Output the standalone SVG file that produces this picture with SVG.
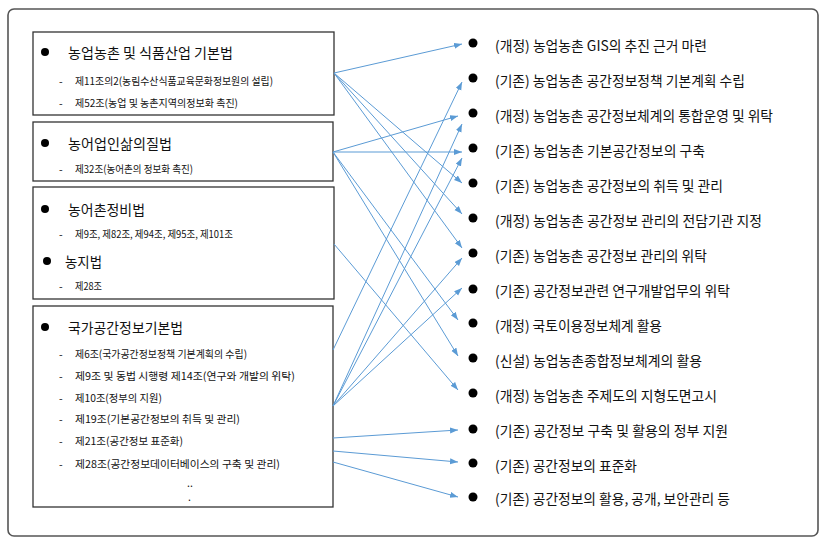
<svg xmlns="http://www.w3.org/2000/svg" width="826" height="548" viewBox="0 0 826 548">
<defs>
<marker id="ah" markerUnits="userSpaceOnUse" markerWidth="9" markerHeight="7" refX="8" refY="3" orient="auto">
<path d="M0,0 L8,3 L0,6 z" fill="#5b9bd5"/>
</marker>
<style>
text{font-family:"Noto Sans CJK KR","Noto Sans",sans-serif;fill:#111;dominant-baseline:central}
.t{font-size:14px}
.s{font-size:10.5px}
.r{font-size:14px}
.box{fill:#fff;stroke:#333;stroke-width:1.3}
.frame{fill:none;stroke:#555;stroke-width:1.6}
.b{fill:#000}
#connectors line{stroke:#5b9bd5;stroke-width:1;marker-end:url(#ah)}
</style>
</defs>
<rect width="826" height="548" fill="#fff"/>
<rect class="frame" x="8" y="9" width="810" height="527" rx="6"/>

<g id="law1">
<rect class="box" x="33" y="32" width="301" height="83"/>
<circle class="b" cx="45" cy="52" r="4"/>
<text class="t" x="68" y="52" textLength="165" lengthAdjust="spacingAndGlyphs">농업농촌 및 식품산업 기본법</text>
<text class="s" x="59" y="80">-</text>
<text class="s" x="75" y="80" textLength="198" lengthAdjust="spacingAndGlyphs">제11조의2(농림수산식품교육문화정보원의 설립)</text>
<text class="s" x="59" y="102">-</text>
<text class="s" x="75" y="102" textLength="163" lengthAdjust="spacingAndGlyphs">제52조(농업 및 농촌지역의정보화 촉진)</text>
</g>

<g id="law2">
<rect class="box" x="33" y="122" width="300" height="59"/>
<circle class="b" cx="45" cy="143" r="4"/>
<text class="t" x="68" y="143" textLength="104" lengthAdjust="spacingAndGlyphs">농어업인삶의질법</text>
<text class="s" x="59" y="168">-</text>
<text class="s" x="75" y="168" textLength="118" lengthAdjust="spacingAndGlyphs">제32조(농어촌의 정보화 촉진)</text>
</g>

<g id="law3">
<rect class="box" x="33" y="187" width="301" height="112"/>
<circle class="b" cx="45" cy="209" r="4"/>
<text class="t" x="68" y="209" textLength="77" lengthAdjust="spacingAndGlyphs">농어촌정비법</text>
<text class="s" x="59" y="233">-</text>
<text class="s" x="75" y="233" textLength="158" lengthAdjust="spacingAndGlyphs">제9조, 제82조, 제94조, 제95조, 제101조</text>
<circle class="b" cx="47" cy="261" r="4"/>
<text class="t" x="65" y="261" textLength="37" lengthAdjust="spacingAndGlyphs">농지법</text>
<text class="s" x="59" y="285">-</text>
<text class="s" x="75" y="285" textLength="27" lengthAdjust="spacingAndGlyphs">제28조</text>
</g>

<g id="law4">
<rect class="box" x="33" y="306" width="300" height="201"/>
<circle class="b" cx="45" cy="327" r="4"/>
<text class="t" x="68" y="327" textLength="115" lengthAdjust="spacingAndGlyphs">국가공간정보기본법</text>
<text class="s" x="59" y="353">-</text>
<text class="s" x="75" y="353" textLength="172" lengthAdjust="spacingAndGlyphs">제6조(국가공간정보정책 기본계획의 수립)</text>
<text class="s" x="59" y="375">-</text>
<text class="s" x="75" y="375" textLength="220" lengthAdjust="spacingAndGlyphs">제9조 및 동법 시행령 제14조(연구와 개발의 위탁)</text>
<text class="s" x="59" y="397">-</text>
<text class="s" x="75" y="397" textLength="87" lengthAdjust="spacingAndGlyphs">제10조(정부의 지원)</text>
<text class="s" x="59" y="418">-</text>
<text class="s" x="75" y="418" textLength="165" lengthAdjust="spacingAndGlyphs">제19조(기본공간정보의 취득 및 관리)</text>
<text class="s" x="59" y="440">-</text>
<text class="s" x="75" y="440" textLength="108" lengthAdjust="spacingAndGlyphs">제21조(공간정보 표준화)</text>
<text class="s" x="59" y="463">-</text>
<text class="s" x="75" y="463" textLength="205" lengthAdjust="spacingAndGlyphs">제28조(공간정보데이터베이스의 구축 및 관리)</text>
<text class="s" x="187" y="482">..</text>
<text class="s" x="188" y="496">.</text>
</g>

<g id="items">
<g id="i1"><circle class="b" cx="473" cy="43" r="4.5"/><text class="r" x="495" y="45" textLength="212" lengthAdjust="spacingAndGlyphs">(개정) 농업농촌 GIS의 추진 근거 마련</text></g>
<g id="i2"><circle class="b" cx="473" cy="78" r="4.5"/><text class="r" x="495" y="80" textLength="250" lengthAdjust="spacingAndGlyphs">(기존) 농업농촌 공간정보정책 기본계획 수립</text></g>
<g id="i3"><circle class="b" cx="473" cy="113" r="4.5"/><text class="r" x="495" y="115" textLength="278" lengthAdjust="spacingAndGlyphs">(개정) 농업농촌 공간정보체계의 통합운영 및 위탁</text></g>
<g id="i4"><circle class="b" cx="473" cy="148" r="4.5"/><text class="r" x="495" y="150" textLength="210" lengthAdjust="spacingAndGlyphs">(기존) 농업농촌 기본공간정보의 구축</text></g>
<g id="i5"><circle class="b" cx="473" cy="183" r="4.5"/><text class="r" x="495" y="185" textLength="228" lengthAdjust="spacingAndGlyphs">(기존) 농업농촌 공간정보의 취득 및 관리</text></g>
<g id="i6"><circle class="b" cx="473" cy="218" r="4.5"/><text class="r" x="495" y="220" textLength="267" lengthAdjust="spacingAndGlyphs">(개정) 농업농촌 공간정보 관리의 전담기관 지정</text></g>
<g id="i7"><circle class="b" cx="473" cy="253" r="4.5"/><text class="r" x="495" y="255" textLength="212" lengthAdjust="spacingAndGlyphs">(기존) 농업농촌 공간정보 관리의 위탁</text></g>
<g id="i8"><circle class="b" cx="473" cy="289" r="4.5"/><text class="r" x="495" y="290" textLength="235" lengthAdjust="spacingAndGlyphs">(기존) 공간정보관련 연구개발업무의 위탁</text></g>
<g id="i9"><circle class="b" cx="473" cy="323" r="4.5"/><text class="r" x="495" y="325" textLength="167" lengthAdjust="spacingAndGlyphs">(개정) 국토이용정보체계 활용</text></g>
<g id="i10"><circle class="b" cx="473" cy="358" r="4.5"/><text class="r" x="495" y="360" textLength="207" lengthAdjust="spacingAndGlyphs">(신설) 농업농촌종합정보체계의 활용</text></g>
<g id="i11"><circle class="b" cx="473" cy="393" r="4.5"/><text class="r" x="495" y="395" textLength="222" lengthAdjust="spacingAndGlyphs">(개정) 농업농촌 주제도의 지형도면고시</text></g>
<g id="i12"><circle class="b" cx="473" cy="429" r="4.5"/><text class="r" x="495" y="430" textLength="233" lengthAdjust="spacingAndGlyphs">(기존) 공간정보 구축 및 활용의 정부 지원</text></g>
<g id="i13"><circle class="b" cx="473" cy="463" r="4.5"/><text class="r" x="495" y="465" textLength="142" lengthAdjust="spacingAndGlyphs">(기존) 공간정보의 표준화</text></g>
<g id="i14"><circle class="b" cx="473" cy="497" r="4.5"/><text class="r" x="495" y="498" textLength="235" lengthAdjust="spacingAndGlyphs">(기존) 공간정보의 활용, 공개, 보안관리 등</text></g>
</g>

<g id="connectors">
<line x1="334" y1="73" x2="462" y2="44"/>
<line x1="334" y1="73" x2="462" y2="183"/>
<line x1="334" y1="73" x2="462" y2="214"/>
<line x1="334" y1="73" x2="462" y2="248"/>
<line x1="333" y1="152" x2="458" y2="116"/>
<line x1="333" y1="152" x2="462" y2="152"/>
<line x1="333" y1="152" x2="458" y2="320"/>
<line x1="333" y1="152" x2="458" y2="356"/>
<line x1="334" y1="244" x2="458" y2="390"/>
<line x1="333" y1="350" x2="462" y2="82"/>
<line x1="333" y1="406" x2="462" y2="124"/>
<line x1="333" y1="406" x2="462" y2="158"/>
<line x1="333" y1="406" x2="462" y2="258"/>
<line x1="333" y1="406" x2="462" y2="288"/>
<line x1="333" y1="438" x2="458" y2="430"/>
<line x1="333" y1="451" x2="458" y2="462"/>
<line x1="333" y1="462" x2="458" y2="497"/>
</g>
</svg>
